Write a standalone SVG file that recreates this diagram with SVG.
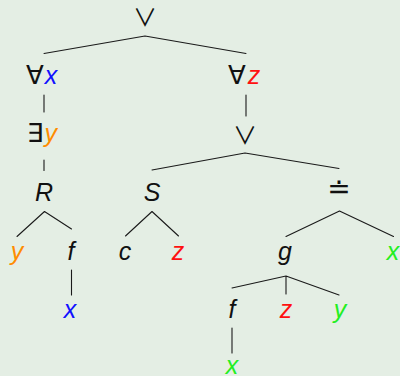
<svg xmlns="http://www.w3.org/2000/svg" width="400" height="376" viewBox="0 0 400 376">
<style>
.bg{fill:#e4eee4}
.e{stroke:#1a1a1a;stroke-width:1.1;fill:none;stroke-linecap:round}
text{font-family:"Liberation Sans","DejaVu Sans",sans-serif;font-size:25px;fill:#111}
.v{font-style:italic}
.s{font-family:"DejaVu Sans",sans-serif;font-style:normal;font-size:26px}
.or{font-family:"Noto Sans CJK JP","DejaVu Sans",sans-serif;font-size:24px}
.q{font-family:"DejaVu Sans",sans-serif;font-size:28px}
.vt{font-family:"Liberation Sans",sans-serif;font-style:italic;font-size:25px}
.m{text-anchor:middle}
.blue{fill:#1010ff}.orange{fill:#ff8c00}.red{fill:#ff1010}.green{fill:#22ee22}
</style>
<rect class="bg" x="0" y="0" width="400" height="376"/>
<g id="connectors">
<path class="e" d="M145,36 L44,53.5 M145,36 L246,53.5"/>
<path class="e" d="M44,95 V112 M246,95 V116 M44,160 V170.5"/>
<path class="e" d="M245,153 L152,170 M245,153 L339,168.5"/>
<path class="e" d="M44.5,211.5 L17,236.5 M44.5,211.5 L71.5,229"/>
<path class="e" d="M152,211.5 L125.5,236 M152,211.5 L178.5,236"/>
<path class="e" d="M339.5,211 L286,236.5 M339.5,211 L393.5,236.5"/>
<path class="e" d="M71.5,270 V295"/>
<path class="e" d="M286,276 L232,288 M286,276 V294 M286,276 L339,295"/>
<path class="e" d="M232,328 V353"/>
</g>
<g id="or1"><text class="or m" x="145" y="26">∨</text></g>
<g id="forallx"><text class="s" x="26" y="84">∀<tspan class="vt blue" dx="1">x</tspan></text></g>
<g id="forallz"><text class="s" x="228" y="84">∀<tspan class="vt red" dx="2">z</tspan></text></g>
<g id="existsy"><text class="s" x="27" y="142">∃<tspan class="vt orange" dx="1">y</tspan></text></g>
<g id="or2"><text class="or m" x="245" y="144">∨</text></g>
<g id="R"><text class="v m" x="44" y="201">R</text></g>
<g id="S"><text class="v m" x="152" y="201">S</text></g>
<g id="eq"><text class="q m" x="339" y="198">≐</text></g>
<g id="y1"><text class="v m orange" x="17" y="260">y</text></g>
<g id="f1"><text class="v m" x="71" y="260">f</text></g>
<g id="c"><text class="v m" x="125" y="260">c</text></g>
<g id="z1"><text class="v m red" x="178" y="260">z</text></g>
<g id="g"><text class="v m" x="285" y="260">g</text></g>
<g id="x1"><text class="v m green" x="393" y="260">x</text></g>
<g id="x2"><text class="v m blue" x="70" y="318">x</text></g>
<g id="f2"><text class="v m" x="232" y="318">f</text></g>
<g id="z2"><text class="v m red" x="286" y="318">z</text></g>
<g id="y2"><text class="v m green" x="340" y="318">y</text></g>
<g id="x3"><text class="v m green" x="232" y="374">x</text></g>
</svg>
